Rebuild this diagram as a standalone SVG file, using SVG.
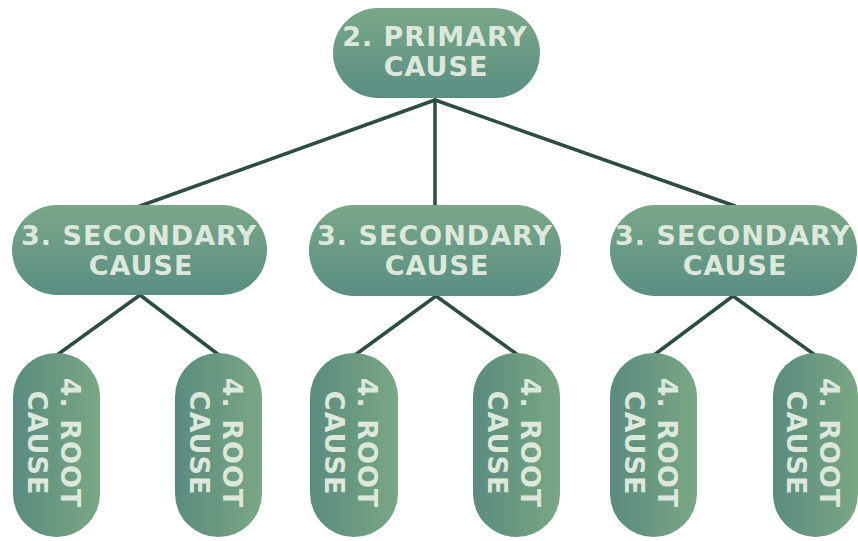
<svg xmlns="http://www.w3.org/2000/svg" width="858" height="541" viewBox="0 0 858 541">
  <defs>
    <linearGradient id="gradV" x1="0" y1="0" x2="0" y2="1">
      <stop offset="0" stop-color="#79a788"/>
      <stop offset="1" stop-color="#5b8e83"/>
    </linearGradient>
    <linearGradient id="gradH" x1="0" y1="0" x2="1" y2="0">
      <stop offset="0" stop-color="#5a8b7f"/>
      <stop offset="1" stop-color="#7aa784"/>
    </linearGradient>
  </defs>
  <style>
    .box { fill: url(#gradV); }
    .pill { fill: url(#gradH); }
    .lbl { font-family: "DejaVu Sans", "Liberation Sans", sans-serif; font-weight: bold; font-size: 27px; letter-spacing: 1px; fill: #dde8dc; text-anchor: middle; }
    .edge { stroke: #2e4c42; stroke-width: 3.5; fill: none; stroke-linecap: round; }
  </style>
  <rect width="858" height="541" fill="#ffffff"/>

  <g id="connectors">
    <line class="edge" x1="435" y1="100" x2="140" y2="206"/>
    <line class="edge" x1="435" y1="100" x2="435" y2="206"/>
    <line class="edge" x1="435" y1="100" x2="735" y2="206"/>
    <line class="edge" x1="140" y1="295" x2="57" y2="355"/>
    <line class="edge" x1="140" y1="295" x2="219" y2="355"/>
    <line class="edge" x1="436" y1="296" x2="355" y2="355"/>
    <line class="edge" x1="436" y1="296" x2="518" y2="355"/>
    <line class="edge" x1="733" y1="296" x2="654" y2="355"/>
    <line class="edge" x1="733" y1="296" x2="815" y2="355"/>
  </g>

  <g id="primary">
    <rect class="box" x="333" y="8" width="207" height="90" rx="45"/>
    <text class="lbl" x="435" y="46">2. PRIMARY</text>
    <text class="lbl" x="436" y="76">CAUSE</text>
  </g>

  <g id="secondary-1">
    <rect class="box" x="12" y="205" width="255" height="90" rx="45"/>
    <text class="lbl" x="139" y="245">3. SECONDARY</text>
    <text class="lbl" x="141" y="275">CAUSE</text>
  </g>
  <g id="secondary-2">
    <rect class="box" x="309" y="205" width="252" height="91" rx="45"/>
    <text class="lbl" x="435" y="245">3. SECONDARY</text>
    <text class="lbl" x="437" y="275">CAUSE</text>
  </g>
  <g id="secondary-3">
    <rect class="box" x="610" y="205" width="247" height="91" rx="45"/>
    <text class="lbl" x="733" y="245">3. SECONDARY</text>
    <text class="lbl" x="735" y="275">CAUSE</text>
  </g>

  <g id="root-1">
    <rect class="pill" x="13" y="353" width="87" height="184" rx="43.5"/>
    <g transform="translate(56.5 443) rotate(90)">
      <text class="lbl" x="0" y="-4">4. ROOT</text>
      <text class="lbl" x="0" y="29">CAUSE</text>
    </g>
  </g>
  <g id="root-2">
    <rect class="pill" x="175" y="353" width="87" height="184" rx="43.5"/>
    <g transform="translate(218.5 443) rotate(90)">
      <text class="lbl" x="0" y="-4">4. ROOT</text>
      <text class="lbl" x="0" y="29">CAUSE</text>
    </g>
  </g>
  <g id="root-3">
    <rect class="pill" x="310" y="353" width="88" height="184" rx="44"/>
    <g transform="translate(354 443) rotate(90)">
      <text class="lbl" x="0" y="-4">4. ROOT</text>
      <text class="lbl" x="0" y="29">CAUSE</text>
    </g>
  </g>
  <g id="root-4">
    <rect class="pill" x="473" y="353" width="87" height="184" rx="43.5"/>
    <g transform="translate(516.5 443) rotate(90)">
      <text class="lbl" x="0" y="-4">4. ROOT</text>
      <text class="lbl" x="0" y="29">CAUSE</text>
    </g>
  </g>
  <g id="root-5">
    <rect class="pill" x="610" y="353" width="87" height="184" rx="43.5"/>
    <g transform="translate(653.5 443) rotate(90)">
      <text class="lbl" x="0" y="-4">4. ROOT</text>
      <text class="lbl" x="0" y="29">CAUSE</text>
    </g>
  </g>
  <g id="root-6">
    <rect class="pill" x="773" y="353" width="85" height="184" rx="42.5"/>
    <g transform="translate(815.5 443) rotate(90)">
      <text class="lbl" x="0" y="-4">4. ROOT</text>
      <text class="lbl" x="0" y="29">CAUSE</text>
    </g>
  </g>
</svg>
